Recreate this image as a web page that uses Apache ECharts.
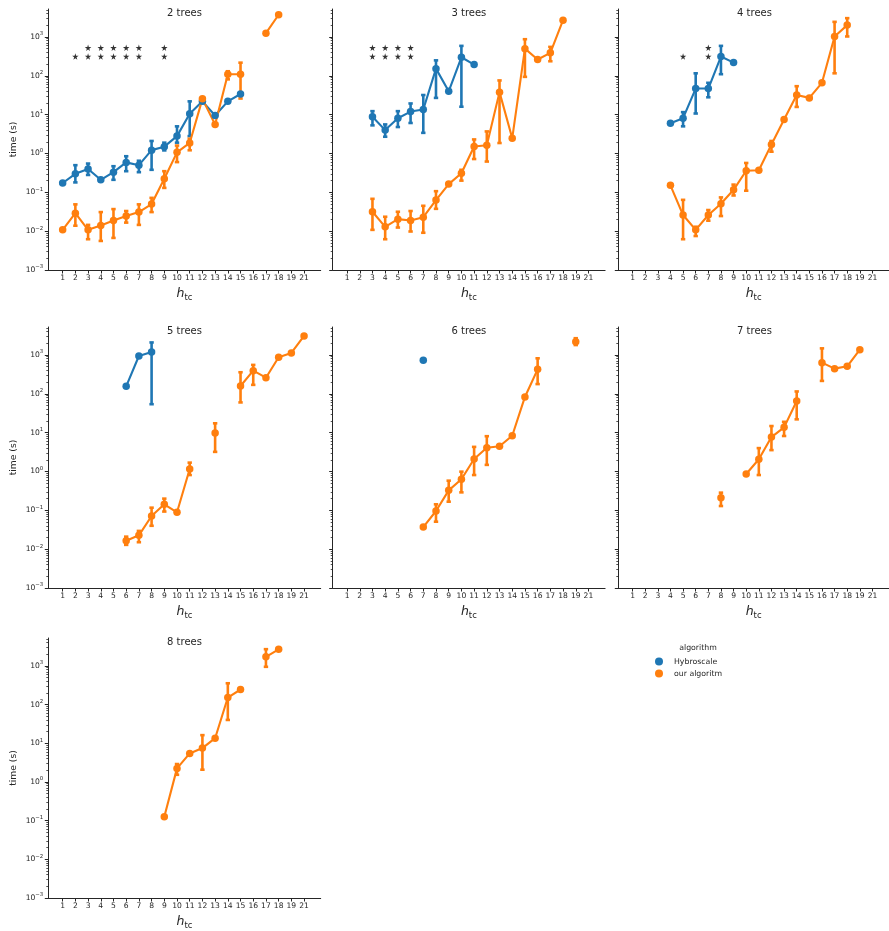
<!DOCTYPE html>
<html><head><meta charset="utf-8">
<script src="https://cdn.jsdelivr.net/npm/echarts@6/dist/echarts.min.js"></script>
<style>html,body{margin:0;padding:0;background:#fff}#c{width:889px;height:931px}</style>
</head><body><div id="c"></div>
<script>
// ---- categories / ticks ----
const categories = ['1','2','3','4','5','6','7','8','9','10','11','12','13','14','15','16','17','18','19','21'];
const majorTicks = [0.001, 0.01, 0.1, 1, 10, 100, 1000];
const panelTitles = ['2 trees','3 trees','4 trees','5 trees','6 trees','7 trees','8 trees'];
const algoNames = ['Hybroscale','our algoritm'];
const n = null;

// ---- 2 trees ----
const hyb2   = [0.174,0.30,0.40,0.21,0.33,0.59,0.50,1.22,1.5,2.8,10.5,22,9.5,22,34,n,n,n,n,n];
const hyb2Lo = [n,0.18,0.28,0.19,0.21,0.35,0.33,0.38,1.2,1.9,2.8,20,n,n,n,n,n,n,n,n];
const hyb2Hi = [n,0.50,0.55,0.23,0.47,0.85,0.65,2.1,1.9,5.0,22,24.5,n,n,n,n,n,n,n,n];
const our2   = [0.0108,0.029,0.0108,0.014,0.0188,0.0246,0.031,0.050,0.224,1.07,1.87,25.5,5.6,110,110,n,1250,3740,n,n];
const our2Lo = [n,0.0138,0.0062,0.0056,0.0067,0.0166,0.0145,0.031,0.13,0.6,1.21,n,n,81,26,n,n,n,n,n];
const our2Hi = [n,0.049,0.0145,0.031,0.037,0.033,0.049,0.072,0.35,1.6,2.4,n,n,131,218,n,n,n,n,n];
const stars2 = [0,1,2,2,2,2,2,0,2,0,0,0,0,0,0,0,0,0,0,0];
// ---- 3 trees ----
const hyb3   = [n,n,8.8,4.0,8.1,12.0,13.6,153,40,300,195,n,n,n,n,n,n,n,n,n];
const hyb3Lo = [n,n,5.3,2.7,4.8,6.1,3.4,27,n,16,n,n,n,n,n,n,n,n,n,n];
const hyb3Hi = [n,n,12.3,5.6,12.3,19.4,32,250,n,590,n,n,n,n,n,n,n,n,n,n];
const our3   = [n,n,0.0316,0.0129,0.0204,0.0188,0.0229,0.063,0.163,0.31,1.51,1.63,38,2.46,500,263,390,2700,n,n];
const our3Lo = [n,n,0.0108,0.0062,0.0124,0.0098,0.0091,0.0376,n,0.20,0.72,0.62,1.86,n,94,n,237,n,n,n];
const our3Hi = [n,n,0.068,0.0235,0.0316,0.033,0.045,0.107,n,0.38,2.3,3.7,76,n,875,n,555,n,n,n];
const stars3 = [0,0,2,2,2,2,0,0,0,0,0,0,0,0,0,0,0,0,0,0];
// ---- 4 trees ----
const hyb4   = [n,n,n,6.0,8.1,47,47,313,219,n,n,n,n,n,n,n,n,n,n,n];
const hyb4Lo = [n,n,n,n,5.0,10.7,28,110,n,n,n,n,n,n,n,n,n,n,n,n];
const hyb4Hi = [n,n,n,n,11.6,116,66,590,n,n,n,n,n,n,n,n,n,n,n,n];
const our4   = [n,n,n,0.151,0.026,0.0108,0.026,0.051,0.116,0.36,0.37,1.70,7.5,32,27,66,1030,2020,n,n];
const our4Lo = [n,n,n,n,0.0062,0.0075,0.0186,0.0245,0.083,0.11,n,1.11,n,15.8,n,n,116,1030,n,n];
const our4Hi = [n,n,n,n,0.064,0.013,0.035,0.074,0.158,0.57,n,2.1,n,54,n,n,2450,3050,n,n];
const stars4 = [0,0,0,0,1,0,2,0,0,0,0,0,0,0,0,0,0,0,0,0];
// ---- 5 trees ----
const hyb5   = [n,n,n,n,n,156,940,1200,n,n,n,n,n,n,n,n,n,n,n,n];
const hyb5Lo = [n,n,n,n,n,n,n,54,n,n,n,n,n,n,n,n,n,n,n,n];
const hyb5Hi = [n,n,n,n,n,n,n,2100,n,n,n,n,n,n,n,n,n,n,n,n];
const our5   = [n,n,n,n,n,0.0165,0.0227,0.0716,0.143,0.089,1.16,n,9.8,n,159,395,260,870,1130,3100];
const our5Lo = [n,n,n,n,n,0.0129,0.0151,0.040,0.093,n,0.81,n,3.2,n,60,170,n,n,n,n];
const our5Hi = [n,n,n,n,n,0.021,0.0295,0.117,0.20,n,1.69,n,17.4,n,359,555,n,n,n,n];
// ---- 6 trees ----
const hyb6   = [n,n,n,n,n,n,730,n,n,n,n,n,n,n,n,n,n,n,n,n];
const our6   = [n,n,n,n,n,n,0.037,0.096,0.327,0.63,2.1,4.1,4.45,8.3,83,427,n,n,2200,n];
const our6Lo = [n,n,n,n,n,n,n,0.051,0.167,0.29,0.81,1.48,n,n,n,178,n,n,1800,n];
const our6Hi = [n,n,n,n,n,n,n,0.143,0.58,0.99,4.3,8.1,n,n,n,820,n,n,2700,n];
// ---- 7 trees ----
const our7   = [n,n,n,n,n,n,n,0.211,n,0.86,2.06,7.7,13.7,65,n,635,445,510,1370,n];
const our7Lo = [n,n,n,n,n,n,n,0.129,n,n,0.81,3.55,8.2,22,n,215,n,n,n,n];
const our7Hi = [n,n,n,n,n,n,n,0.285,n,n,4.0,14.8,19,115,n,1480,n,n,n,n];
// ---- 8 trees ----
const our8   = [n,n,n,n,n,n,n,n,0.126,2.24,5.45,7.5,13.5,152,245,n,1710,2680,n,n];
const our8Lo = [n,n,n,n,n,n,n,n,n,1.53,n,2.07,n,40,n,n,945,n,n,n];
const our8Hi = [n,n,n,n,n,n,n,n,n,2.9,n,16.2,n,355,n,n,2700,n,n,n];

const starLevels = [316, 525];
const Y_MIN = 0.001, Y_MAX = 5250;
const X_MIN = -1.13, X_MAX = 20.31;

const panels = [
  {hyb:hyb2, hybLo:hyb2Lo, hybHi:hyb2Hi, our:our2, ourLo:our2Lo, ourHi:our2Hi, stars:stars2},
  {hyb:hyb3, hybLo:hyb3Lo, hybHi:hyb3Hi, our:our3, ourLo:our3Lo, ourHi:our3Hi, stars:stars3},
  {hyb:hyb4, hybLo:hyb4Lo, hybHi:hyb4Hi, our:our4, ourLo:our4Lo, ourHi:our4Hi, stars:stars4},
  {hyb:hyb5, hybLo:hyb5Lo, hybHi:hyb5Hi, our:our5, ourLo:our5Lo, ourHi:our5Hi},
  {hyb:hyb6, our:our6, ourLo:our6Lo, ourHi:our6Hi},
  {our:our7, ourLo:our7Lo, ourHi:our7Hi},
  {our:our8, ourLo:our8Lo, ourHi:our8Hi}
];

const COLORS = ['#1f77b4', '#ff7f0e'];
const TXT = '#262626';
const FONT = 'DejaVu Sans';
const lefts = [48.3, 332.7, 618.3], tops = [9, 327, 638];
const W = 272.4, H = 261;

const minorTicks = [];
for (let k = -3; k <= 3; k++) for (let m = 2; m <= 9; m++) { const v = m * Math.pow(10, k); if (v < Y_MAX) minorTicks.push(v); }
const idx = categories.map((c, i) => i);

function errRender(color) {
  return function (params, api) {
    const x = api.value(0), lo = api.value(1), hi = api.value(2);
    const p1 = api.coord([x, lo]), p2 = api.coord([x, hi]);
    const c = 2.2, lw = 2.6;
    const st = {stroke: color, lineWidth: lw};
    return {type: 'group', children: [
      {type: 'line', shape: {x1: p1[0], y1: p1[1], x2: p2[0], y2: p2[1]}, style: st},
      {type: 'line', shape: {x1: p1[0]-c, y1: p1[1], x2: p1[0]+c, y2: p1[1]}, style: st},
      {type: 'line', shape: {x1: p2[0]-c, y1: p2[1], x2: p2[0]+c, y2: p2[1]}, style: st}
    ]};
  };
}

const grid = [], xAxis = [], yAxis = [], series = [], title = [];
panels.forEach((p, pi) => {
  const row = Math.floor(pi / 3), col = pi % 3;
  grid.push({left: lefts[col], top: tops[row], width: W, height: H, containLabel: false});
  title.push({text: panelTitles[pi], left: lefts[col] + W / 2, top: tops[row] - 0.5, textAlign: 'center', padding: 0,
    textStyle: {fontSize: 10, fontWeight: 'normal', color: TXT, fontFamily: FONT}});
  xAxis.push({
    gridIndex: pi, type: 'value', min: X_MIN, max: X_MAX,
    axisLine: {show: true, onZero: false, lineStyle: {color: TXT, width: 1}},
    axisTick: {show: true, customValues: idx, length: 3.5, lineStyle: {color: TXT, width: 1}},
    axisLabel: {customValues: idx, formatter: v => categories[Math.round(v)], fontSize: 7.6, color: TXT, fontFamily: FONT, margin: 4.5},
    splitLine: {show: false},
    name: '{h|h}{s|tc}', nameLocation: 'middle', nameGap: 16,
    nameTextStyle: {verticalAlign: 'top', rich: {
      h: {fontSize: 12.5, fontStyle: 'italic', fontFamily: FONT, color: TXT, lineHeight: 16},
      s: {fontSize: 8.5, fontFamily: FONT, color: TXT, verticalAlign: 'bottom', lineHeight: 10}
    }}
  });
  yAxis.push({
    gridIndex: pi, type: 'log', logBase: 10, min: Y_MIN, max: Y_MAX, position: 'left',
    axisLine: {show: true, onZero: false, lineStyle: {color: TXT, width: 1}},
    axisTick: {show: true, customValues: majorTicks, length: 3.5, lineStyle: {color: TXT, width: 1}},
    axisLabel: {show: col === 0, customValues: majorTicks, margin: 5,
      formatter: v => { const e = Math.round(Math.log10(v)); return '{b|10}{e|' + String(e).replace('-', '\u2212') + '}'; },
      rich: {b: {fontSize: 7.6, fontFamily: FONT, color: TXT, lineHeight: 11},
             e: {fontSize: 5.4, fontFamily: FONT, color: TXT, verticalAlign: 'top', lineHeight: 7}}},
    splitLine: {show: false},
    name: col === 0 ? 'time (s)' : '', nameLocation: 'middle', nameGap: 30,
    nameTextStyle: {fontSize: 9.2, color: TXT, fontFamily: FONT}
  });
  yAxis.push({
    gridIndex: pi, type: 'log', logBase: 10, min: Y_MIN, max: Y_MAX, position: 'left',
    axisLine: {show: false, onZero: false},
    axisTick: {show: true, customValues: minorTicks, length: 2, lineStyle: {color: TXT, width: 0.8}},
    axisLabel: {show: false}, splitLine: {show: false}
  });
  const groups = [[p.hyb, p.hybLo, p.hybHi], [p.our, p.ourLo, p.ourHi]];
  groups.forEach((g, ai) => {
    const [vals, lo, hi] = g;
    if (!vals) return;
    if (lo) {
      const ed = [];
      lo.forEach((l, i) => { if (l != null && hi[i] != null) ed.push([i, l, hi[i]]); });
      series.push({type: 'custom', name: algoNames[ai] + ' err', xAxisIndex: pi, yAxisIndex: 2 * pi,
        renderItem: errRender(COLORS[ai]), encode: {x: 0, y: [1, 2]}, data: ed, z: 3, silent: true});
    }
    series.push({type: 'line', name: algoNames[ai], xAxisIndex: pi, yAxisIndex: 2 * pi,
      data: vals.map((v, i) => [i, v == null ? '-' : v]), connectNulls: false,
      symbol: 'circle', symbolSize: 7.5, showSymbol: true, showAllSymbol: true,
      itemStyle: {color: COLORS[ai]}, lineStyle: {color: COLORS[ai], width: 2.1}, z: 4, silent: true, animation: false});
  });
  if (p.stars) {
    const sd = [];
    p.stars.forEach((c, i) => { for (let k = 0; k < c; k++) sd.push([i, starLevels[k]]); });
    series.push({type: 'scatter', name: 'sig', xAxisIndex: pi, yAxisIndex: 2 * pi, data: sd,
      symbol: 'path://M50,0 L61,35 L98,35 L68,57 L79,91 L50,70 L21,91 L32,57 L2,35 L39,35 Z',
      symbolSize: 6.5, itemStyle: {color: '#000'}, z: 5, silent: true});
  }
});

title.push({text: 'algorithm', left: 698, top: 644, textAlign: 'center', padding: 0,
  textStyle: {fontSize: 7.8, fontWeight: 'normal', color: TXT, fontFamily: FONT}});

const option = {
  animation: false,
  backgroundColor: '#fff',
  title: title,
  legend: {data: algoNames, orient: 'vertical', left: 655, top: 657.5, icon: 'circle', itemWidth: 8, itemHeight: 8,
    itemGap: 4, selectedMode: false, padding: 0,
    textStyle: {fontSize: 7.8, color: TXT, fontFamily: FONT, padding: [0, 0, 0, 6]}},
  grid: grid, xAxis: xAxis, yAxis: yAxis, series: series
};
const chart = echarts.init(document.getElementById('c'), null, {renderer: 'canvas'});
chart.setOption(option);
</script></body></html>
